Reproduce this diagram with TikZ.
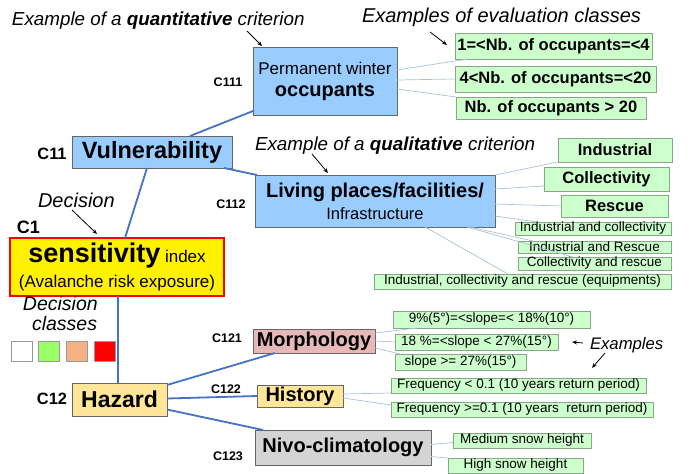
\documentclass[tikz,border=0pt]{standalone}
\usepackage{fontspec}
\setmainfont{Liberation Sans}
\usetikzlibrary{arrows.meta}
\definecolor{cBlue}{HTML}{99CCFF}
\definecolor{cGreen}{HTML}{CCFFCC}
\definecolor{cGreenBd}{HTML}{86A886}
\definecolor{cHaz}{HTML}{FFE699}
\definecolor{cMorph}{HTML}{E6B8B7}
\definecolor{cNivo}{HTML}{D4D4D4}
\definecolor{cLink}{HTML}{4472C4}
\definecolor{cThin}{HTML}{A9C0DC}
\definecolor{cPeach}{HTML}{F4B183}
\definecolor{cLgreen}{HTML}{99FF66}
\newcommand\placebox[7]{%
  \pgfmathsetmacro\pbcx{(#3+#5)/2}%
  \pgfmathsetmacro\pbcy{(#4+#6)/2}%
  \pgfmathsetmacro\pbw{#5-#3}%
  \pgfmathsetmacro\pbh{#6-#4}%
  \node[#1, minimum width=\pbw pt, minimum height=\pbh pt] (#2) at (\pbcx,\pbcy) {#7};}
\newcommand\fsz[1]{\fontsize{#1}{#1}\selectfont}
\begin{document}
\begin{tikzpicture}[x=1pt,y=-1pt,
  every node/.style={inner sep=0pt, outer sep=0pt},
  bxbase/.style={draw=black!60, line width=0.8pt, align=center},
  bxblue/.style={bxbase, fill=cBlue},
  bxgreen/.style={draw=cGreenBd, line width=0.8pt, fill=cGreen, align=center},
  gbold/.style={bxgreen, font=\fsz{16.5}\bfseries},
  gnorm/.style={bxgreen, font=\fsz{13.5}},
  thicklink/.style={draw=cLink, line width=1.8pt},
  thinlink/.style={draw=cThin, line width=0.7pt},
  notearrow/.style={draw=black, line width=0.8pt, -{Stealth[length=5pt,width=4pt]}},
  clabel/.style={anchor=base, font=\fsz{12.5}\bfseries},
  clabelbig/.style={anchor=base, font=\fsz{16.4}\bfseries},
  note/.style={anchor=base west, font=\fsz{18.8}\itshape},
  sq/.style={draw=black!40, line width=0.8pt, minimum width=21pt, minimum height=20pt}
]
\useasboundingbox (0,0) rectangle (694,474);

% main boxes
\placebox{bxblue, font=\fontsize{17}{22}\selectfont}{occ}{253}{47}{397}{115}{Permanent winter\\{\fsz{20}\bfseries occupants}}
\placebox{bxblue, font=\fsz{23.5}\bfseries}{vul}{72}{136}{232}{168}{Vulnerability}
\placebox{bxblue, font=\fontsize{16.5}{22}\selectfont}{liv}{255}{175}{495}{227}{{\fsz{20}\bfseries Living places/facilities/}\\Infrastructure}
\placebox{draw=red, line width=2.3pt, fill=yellow, align=center, font=\fontsize{17}{25}\selectfont}{sens}{10}{238}{224}{296}{{\fsz{27}\bfseries sensitivity} index\\(Avalanche risk exposure)}
\placebox{bxbase, fill=cHaz, font=\fsz{23}\bfseries}{haz}{72}{383}{167}{416}{Hazard}
\placebox{bxbase, fill=cMorph, font=\fsz{20}\bfseries}{morph}{253}{329}{375}{353}{Morphology}
\placebox{bxbase, fill=cHaz, font=\fsz{20}\bfseries}{hist}{257}{385}{343}{407}{History}
\placebox{bxbase, fill=cNivo, font=\fsz{20}\bfseries}{nivo}{255}{430}{431}{465}{Nivo-climatology}

% evaluation classes
\placebox{gbold}{e1}{455}{33}{652}{59}{1=<Nb. of occupants=<4}
\placebox{gbold}{e2}{455}{66}{656}{92}{4<Nb. of occupants=<20}
\placebox{gbold}{e3}{456}{97}{646}{119}{Nb. of occupants > 20}
\placebox{gbold}{ind}{558}{138}{672}{162}{Industrial}
\placebox{gbold}{col}{544}{167}{669}{191}{Collectivity}
\placebox{gbold}{res}{561}{195}{668}{217}{Rescue}
\placebox{gnorm}{ic}{515}{222}{671}{235}{Industrial and collectivity}
\placebox{gnorm}{ir}{518}{241}{671}{253}{Industrial and Rescue}
\placebox{gnorm}{cr}{518}{257}{671}{270}{Collectivity and rescue}
\placebox{gnorm}{icr}{374}{274}{671}{289}{Industrial, collectivity and rescue (equipments)}
\placebox{gnorm}{m1}{393}{311}{590}{328}{9\%(5°)=<slope=< 18\%(10°)}
\placebox{gnorm}{m2}{395}{334}{558}{350}{18 \%=<slope < 27\%(15°)}
\placebox{gnorm}{m3}{395}{354}{526}{370}{slope >= 27\%(15°)}
\placebox{gnorm}{h1}{391}{378}{646}{393}{Frequency < 0.1 (10 years return period)}
\placebox{gnorm}{h2}{391}{402}{653}{417}{Frequency >=0.1 (10 years\ \ return period)}
\placebox{gnorm}{n1}{453}{433}{591}{448}{Medium snow height}
\placebox{gnorm}{n2}{448}{458}{583}{473}{High snow height}

% decision class squares
\node[sq, fill=white] (sq1) at (21.5,351) {};
\node[sq, fill=cLgreen] (sq2) at (48.5,351) {};
\node[sq, fill=cPeach] (sq3) at (76.5,351) {};
\node[sq, fill=red] (sq4) at (105,351) {};

% labels
\node[clabel] (l111) at (228,86) {C111};
\node[clabelbig] (l11) at (52,159) {C11};
\node[clabel] (l112) at (231,208) {C112};
\node[anchor=base, font=\fsz{18}\bfseries] (l1) at (28.5,233) {C1};
\node[clabelbig] (l12) at (52,404) {C12};
\node[clabel] (l121) at (227,342) {C121};
\node[clabel] (l122) at (226,393) {C122};
\node[clabel] (l123) at (228,460) {C123};

% notes
\node[note] (tq) at (12,25) {Example of a \textbf{quantitative} criterion};
\node[note, font=\fsz{20}\itshape] (tev) at (362,22) {Examples of evaluation classes};
\node[note] (tql) at (255,150) {Example of a \textbf{qualitative} criterion};
\node[note, font=\fsz{20}\itshape] (tdec) at (38,207) {Decision};
\node[note, font=\fsz{19.5}\itshape] (tdc1) at (23,310) {Decision};
\node[note, font=\fsz{19.5}\itshape] (tdc2) at (32,330) {classes};
\node[note, font=\fsz{16.7}\itshape] (tex) at (590,349) {Examples};

% thick links
\draw[thicklink] ([xshift=38pt]vul.north) -- ([yshift=4pt]occ.south west);
\draw[thicklink] ([xshift=-8pt]vul.south east) -- ([xshift=2pt]liv.north west);
\draw[thicklink] ([xshift=8pt]sens.north) -- ([xshift=-5pt]vul.south);
\draw[thicklink] ([xshift=1pt]sens.south) -- ([xshift=-1.5pt]haz.north);
\draw[thicklink] ([yshift=-2pt]haz.north east) -- ([xshift=-39pt]morph.south);
\draw[thicklink] ([yshift=1pt]haz.east) -- (hist.west);
\draw[thicklink] ([yshift=-10pt]haz.east) -- ([xshift=8pt]nivo.north west);

% thin links
\draw[thinlink] ([yshift=11pt]occ.east) -- ([xshift=13pt]e1.south west);
\draw[thinlink] ([yshift=1pt]occ.east) -- (e2.west);
\draw[thinlink] ([yshift=-8pt]occ.east) -- (e3.north west);
\draw[thinlink] (liv.north east) -- (ind.south west);
\draw[thinlink] ([yshift=12pt]liv.east) -- ([yshift=5pt]col.south west);
\draw[thinlink] ([yshift=-3pt]liv.east) -- (res.west);
\draw[thinlink] ([yshift=-15pt]liv.east) -- ([xshift=22pt]ic.north west);
\draw[thinlink] ([xshift=-25pt]liv.south east) -- ([xshift=15pt]ir.north west);
\draw[thinlink] ([xshift=-28pt]liv.south east) -- ([xshift=55pt]cr.north west);
\draw[thinlink] ([xshift=50pt]liv.south) -- ([xshift=134pt]icr.north west);
\draw[thinlink] ([yshift=8pt]morph.east) -- ([xshift=24pt]m1.south west);
\draw[thinlink] (morph.east) -- (m2.west);
\draw[thinlink] ([yshift=-7pt]morph.east) -- ([xshift=5pt]m3.north west);
\draw[thinlink] ([yshift=2pt]hist.east) -- (h1.south west);
\draw[thinlink] ([yshift=-2pt]hist.east) -- ([yshift=4.5pt]h2.west);
\draw[thinlink] ([yshift=3pt]nivo.east) -- ([yshift=-2pt]n1.west);
\draw[thinlink] ([yshift=-9pt]nivo.east) -- (n2.north west);

% note arrows
\coordinate (a1s) at (247,31);
\draw[notearrow] (a1s) -- ([xshift=9pt,yshift=1pt]occ.north west);
\coordinate (a2s) at (430,32);
\draw[notearrow] (a2s) -- ([xshift=-8pt,yshift=1pt]e1.west);
\coordinate (a3s) at (312,154);
\draw[notearrow] (a3s) -- ([xshift=73pt,yshift=2pt]liv.north west);
\coordinate (a4s) at (72,210);
\draw[notearrow] (a4s) -- ([xshift=87pt,yshift=4pt]sens.north west);
\coordinate (a5s) at (583,343);
\draw[notearrow] (a5s) -- ([xshift=14pt]m2.east);
\coordinate (a6s) at (605,353);
\coordinate (a6e) at (592,368);
\draw[notearrow] (a6s) -- (a6e);
\end{tikzpicture}
\end{document}
